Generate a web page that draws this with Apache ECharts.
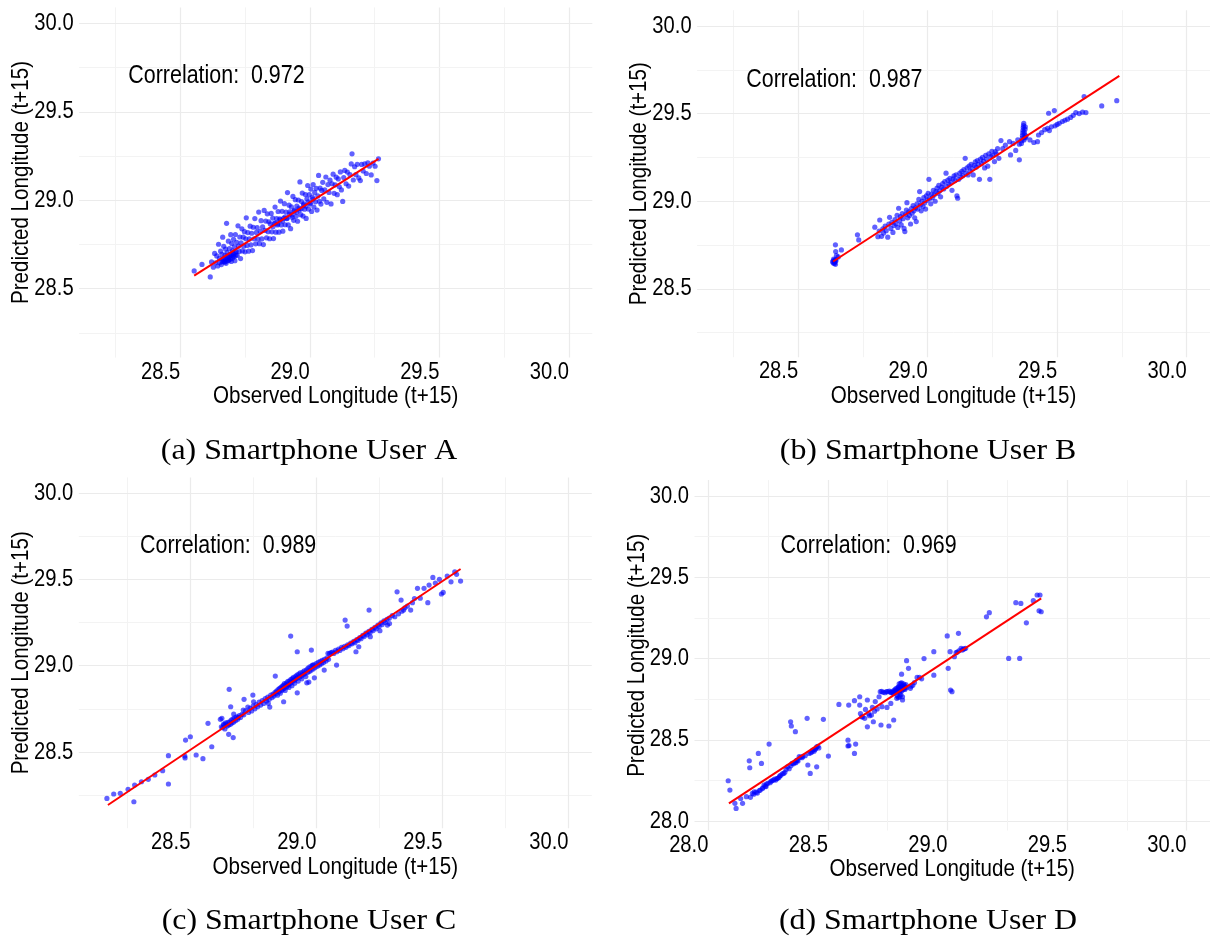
<!DOCTYPE html>
<html><head><meta charset="utf-8">
<script src="https://cdn.jsdelivr.net/npm/echarts@6/dist/echarts.min.js"></script>
<style>html,body{margin:0;padding:0;background:#fff;} #c{width:1210px;height:937px;}</style>
</head><body><div id="c"></div>
<script>
// ---------------- data ----------------
const xTitle = "Observed Longitude (t+15)";
const yTitle = "Predicted Longitude (t+15)";
const captions = ["(a) Smartphone User A", "(b) Smartphone User B", "(c) Smartphone User C", "(d) Smartphone User D"];
const corrTexts = ["Correlation:  0.972", "Correlation:  0.987", "Correlation:  0.989", "Correlation:  0.969"];
const corrPosA = [28.64, 29.70];
const corrPosB = [28.64, 29.69];
const corrPosC = [28.65, 29.695];
const corrPosD = [28.67, 29.69];
const rangeAB = [28.11, 30.09];
const rangeC = [28.0575, 30.0925];
const rangeD = [27.942, 30.098];
const ticksABC = [28.5, 29.0, 29.5, 30.0];
const ticksD = [28.0, 28.5, 29.0, 29.5, 30.0];
const gridValsABC = [28.25, 28.5, 28.75, 29.0, 29.25, 29.5, 29.75, 30.0];
const gridValsD = [28.0, 28.25, 28.5, 28.75, 29.0, 29.25, 29.5, 29.75, 30.0];

const fitA = [[28.554, 28.573], [29.265, 29.234]];
const fitB = [[28.635, 28.656], [29.740, 29.715]];
const fitC = [[28.173, 28.192], [29.572, 29.561]];
const fitD = [[28.086, 28.109], [29.392, 29.370]];

const pointsA = [
[28.554,28.600],[28.584,28.637],[28.616,28.566],
[28.621,28.651],[28.628,28.621],[28.633,28.699],[28.637,28.646],[28.641,28.685],[28.645,28.628],[28.648,28.751],[28.651,28.671],[28.653,28.647],[28.656,28.712],
[28.659,28.636],[28.661,28.694],[28.664,28.791],[28.666,28.668],[28.668,28.739],[28.670,28.654],[28.673,28.689],[28.675,28.724],[28.677,28.643],[28.679,28.869],[28.681,28.703],[28.684,28.678],[28.686,28.768],[28.688,28.660],[28.690,28.726],[28.693,28.694],[28.695,28.805],[28.697,28.654],[28.699,28.755],
[28.702,28.714],[28.704,28.684],[28.706,28.779],[28.709,28.736],[28.711,28.658],[28.713,28.806],[28.716,28.710],[28.718,28.762],[28.720,28.688],[28.723,28.855],[28.725,28.740],[28.728,28.710],[28.730,28.792],[28.733,28.670],[28.735,28.759],[28.738,28.838],[28.740,28.713],[28.743,28.791],[28.745,28.740],[28.748,28.822],[28.750,28.708],[28.753,28.782],[28.755,28.900],[28.758,28.744],
[28.761,28.817],[28.764,28.712],[28.767,28.781],[28.770,28.853],[28.773,28.747],[28.776,28.813],[28.779,28.715],[28.782,28.847],[28.785,28.782],[28.788,28.896],[28.791,28.753],[28.794,28.818],[28.797,28.845],[28.800,28.780],[28.803,28.933],[28.806,28.754],[28.809,28.824],[28.812,28.884],[28.815,28.781],[28.818,28.849],[28.821,28.749],[28.824,28.942],[28.827,28.829],[28.830,28.882],[28.833,28.787],[28.836,28.923],[28.839,28.822],[28.842,28.878],[28.845,28.782],[28.848,28.866],
[28.851,28.925],[28.854,28.821],[28.857,28.899],[28.860,28.783],[28.863,28.869],[28.866,28.961],[28.869,28.819],[28.872,28.896],[28.875,28.860],[28.878,28.936],[28.881,28.819],[28.884,28.895],[28.887,28.995],[28.890,28.860],[28.893,28.937],[28.896,28.825],[28.899,28.898],[28.902,28.980],[28.905,28.861],[28.908,28.933],[28.911,28.896],[28.914,29.043],[28.917,28.860],[28.920,28.972],[28.923,28.934],[28.926,28.839],[28.929,28.962],[28.932,28.903],[28.935,29.021],[28.938,28.886],[28.941,28.944],[28.944,29.003],[28.947,28.909],
[28.950,28.967],[28.953,28.881],[28.956,29.001],[28.959,28.944],[28.962,29.103],[28.965,28.918],[28.968,28.992],[28.971,29.040],[28.974,28.910],[28.977,28.979],[28.980,28.949],[28.983,29.032],[28.986,28.897],[28.989,29.007],[28.992,29.083],[28.995,28.950],[28.998,29.031],[29.001,28.978],[29.004,29.063],[29.007,28.936],[29.010,29.017],[29.013,29.088],[29.016,28.961],[29.019,29.044],[29.022,28.991],[29.025,29.067],[29.028,28.944],[29.031,29.024],[29.034,29.140],[29.037,28.994],[29.040,29.068],[29.043,28.978],[29.046,29.055],
[29.050,29.101],[29.054,29.007],[29.058,29.058],[29.062,29.131],[29.066,28.988],[29.070,29.088],[29.074,29.044],[29.078,29.113],[29.082,28.979],[29.086,29.093],[29.090,29.147],[29.094,29.039],[29.098,29.087],[29.102,29.130],[29.106,29.031],[29.110,29.120],[29.114,29.076],[29.118,29.160],[29.122,29.058],[29.127,28.993],[29.131,29.128],[29.135,29.168],[29.140,29.093],[29.145,29.159],[29.150,29.080],[29.155,29.144],[29.160,29.205],[29.163,29.262],[29.168,29.114],[29.173,29.189],[29.178,29.144],[29.183,29.203],[29.189,29.126],[29.195,29.111],[29.200,29.202],[29.206,29.165],[29.212,29.205],[29.218,29.151],[29.224,29.211],[29.230,29.192],[29.237,29.143],[29.244,29.210],[29.252,29.192],[29.259,29.111],[29.265,29.234],
[28.662,28.652],[28.667,28.661],[28.672,28.649],[28.676,28.668],[28.680,28.656],[28.683,28.672],[28.687,28.662],[28.691,28.681],[28.694,28.667],[28.698,28.690],[28.701,28.672],[28.705,28.697],[28.708,28.680],[28.712,28.703],[28.715,28.689],
[28.858,28.850],[28.868,28.872],[28.877,28.866],[28.886,28.889],[28.895,28.882],[28.904,28.905],[28.913,28.898],[28.922,28.921],[28.931,28.915],[28.940,28.938],[28.949,28.932],[28.958,28.955],[28.967,28.951],[28.976,28.972],[28.985,28.966],[28.994,28.990],[29.003,28.984],[29.012,29.006]
];

const pointsB = [
[28.633,28.655],[28.636,28.648],[28.638,28.662],[28.640,28.645],[28.642,28.658],[28.644,28.640],[28.645,28.668],[28.637,28.670],[28.641,28.652],[28.646,28.660],[28.644,28.751],[28.645,28.713],[28.648,28.690],[28.667,28.722],[28.655,28.682],
[28.729,28.808],[28.734,28.779],[28.796,28.852],[28.808,28.798],[28.815,28.893],[28.813,28.830],[28.822,28.800],[28.827,28.843],[28.830,28.818],[28.836,28.858],[28.840,28.832],[28.846,28.795],[28.850,28.870],[28.853,28.908],[28.858,28.845],[28.862,28.880],[28.866,28.822],[28.870,28.862],[28.874,28.895],[28.878,28.872],[28.882,28.920],[28.885,28.850],[28.888,28.960],[28.892,28.888],[28.895,28.912],[28.898,28.865],[28.902,28.930],[28.905,28.900],[28.909,28.845],[28.912,28.827],[28.915,28.925],[28.918,28.950],[28.920,28.992],[28.923,28.905],[28.927,28.940],[28.930,28.918],[28.934,28.870],[28.937,28.958],[28.940,28.932],[28.944,28.975],[28.947,28.945],[28.950,28.905],[28.953,28.962],[28.956,28.884],[28.959,28.985],[28.962,28.955],[28.966,29.010],[28.969,29.055],[28.972,28.978],[28.975,28.945],[28.978,29.000],[28.982,28.970],[28.985,29.020],[28.988,28.990],[28.992,28.955],[28.995,29.030],[28.998,29.005],[29.002,29.045],[29.005,29.125],[29.008,29.015],[29.012,28.985],[29.015,29.040],[29.018,29.020],[29.022,29.062],[29.025,29.035],[29.029,29.000],[29.032,29.055],[29.036,29.075],[29.040,29.045],[29.043,29.090],[29.047,29.060],[29.050,29.025],[29.054,29.080],[29.058,29.100],[29.062,29.070],[29.066,29.112],[29.071,29.160],[29.074,29.085],[29.078,29.120],[29.082,29.098],[29.086,29.130],[29.090,29.105],[29.094,29.062],[29.098,29.128],[29.102,29.145],[29.106,29.118],[29.110,29.150],[29.113,29.030],[29.116,29.017],[29.120,29.125],[29.124,29.160],[29.128,29.138],[29.132,29.170],[29.136,29.145],[29.140,29.180],[29.145,29.245],[29.148,29.160],[29.152,29.190],[29.156,29.150],[29.160,29.200],[29.164,29.172],[29.168,29.210],[29.172,29.185],[29.176,29.150],[29.180,29.205],[29.184,29.225],[29.188,29.195],[29.192,29.232],[29.196,29.210],[29.200,29.125],[29.204,29.240],[29.208,29.215],[29.212,29.250],[29.216,29.228],[29.220,29.190],[29.224,29.262],[29.228,29.240],[29.232,29.200],[29.236,29.270],[29.240,29.125],[29.244,29.255],[29.248,29.285],[29.252,29.260],[29.258,29.226],[29.261,29.283],[29.265,29.270],[29.270,29.300],[29.275,29.245],[29.283,29.346],[29.290,29.300],[29.300,29.320],[29.316,29.340],[29.320,29.264],[29.330,29.330],[29.340,29.290],[29.354,29.236],[29.354,29.325],[29.348,29.350],
[29.362,29.330],[29.364,29.345],[29.365,29.360],[29.366,29.375],[29.367,29.390],[29.368,29.405],[29.369,29.420],[29.370,29.432],[29.371,29.445],[29.372,29.350],[29.374,29.365],[29.375,29.380],[29.373,29.395],[29.376,29.410],[29.378,29.362],[29.380,29.372],[29.377,29.425],
[29.395,29.350],[29.410,29.335],[29.424,29.340],[29.428,29.378],[29.440,29.392],[29.452,29.408],[29.463,29.416],[29.467,29.502],[29.470,29.403],[29.478,29.425],[29.489,29.517],[29.492,29.430],[29.500,29.438],[29.508,29.445],[29.520,29.455],[29.530,29.462],[29.540,29.468],[29.552,29.478],[29.562,29.490],[29.572,29.506],[29.585,29.500],[29.598,29.508],[29.604,29.597],[29.611,29.506],[29.672,29.544],[29.730,29.574]
];

const pointsC = [
[28.169,28.230],[28.196,28.256],[28.222,28.260],[28.253,28.283],[28.276,28.211],[28.279,28.308],[28.306,28.327],[28.333,28.341],[28.359,28.366],[28.390,28.391],[28.413,28.314],[28.413,28.478],[28.478,28.476],[28.479,28.465],[28.481,28.569],[28.500,28.588],[28.523,28.482],[28.550,28.461],[28.585,28.530],[28.570,28.666],[28.619,28.689],[28.623,28.646],[28.625,28.695],[28.632,28.662],[28.654,28.863],[28.660,28.762],[28.652,28.602],[28.640,28.668],[28.670,28.583],[28.672,28.720],[28.710,28.743],[28.713,28.805],[28.748,28.830],[28.751,28.791],[28.690,28.700],[28.712,28.715],[28.728,28.760],[28.809,28.782],[28.815,28.760],[28.837,28.940],[28.870,28.791],[28.898,29.172],[28.924,29.081],[28.924,28.843],[28.962,28.901],[28.970,28.905],[28.980,29.091],[28.985,29.004],[28.992,28.930],[29.031,28.975],[29.046,29.072],[29.080,29.004],[29.114,29.265],[29.122,29.230],[29.157,29.081],[29.168,29.110],[29.209,29.323],[29.214,29.168],[29.252,29.203],[29.282,29.236],[29.290,29.245],[29.320,29.429],[29.336,29.381],[29.346,29.323],[29.374,29.323],[29.389,29.390],[29.401,29.449],[29.412,29.392],[29.427,29.449],[29.442,29.366],[29.447,29.468],[29.462,29.512],[29.472,29.480],[29.496,29.416],[29.503,29.425],[29.488,29.501],[29.519,29.520],[29.534,29.487],[29.549,29.545],[29.556,29.530],[29.572,29.491],
[28.628,28.641],[28.633,28.655],[28.637,28.633],[28.641,28.662],[28.646,28.650],[28.649,28.671],[28.652,28.656],[28.656,28.675],[28.659,28.660],[28.662,28.684],[28.665,28.668],[28.669,28.692],[28.672,28.673],[28.676,28.697],[28.680,28.682],[28.684,28.703],[28.688,28.690],[28.694,28.711],[28.699,28.700],[28.705,28.718],[28.719,28.738],[28.731,28.729],[28.737,28.753],[28.743,28.738],[28.749,28.766],[28.756,28.750],[28.761,28.774],[28.767,28.762],[28.773,28.789],[28.779,28.772],[28.785,28.798],[28.791,28.781],[28.797,28.809],[28.802,28.796],[28.807,28.818],[28.813,28.806],[28.819,28.829],[28.824,28.815],
[28.828,28.836],[28.831,28.824],[28.836,28.846],[28.839,28.837],[28.842,28.853],[28.846,28.829],[28.848,28.861],[28.852,28.849],[28.854,28.869],[28.857,28.841],[28.859,28.873],[28.862,28.857],[28.864,28.881],[28.867,28.864],[28.869,28.886],[28.872,28.869],[28.873,28.896],[28.876,28.857],[28.878,28.891],[28.881,28.877],[28.882,28.901],[28.885,28.883],[28.887,28.909],[28.890,28.891],[28.891,28.874],[28.894,28.913],[28.896,28.897],[28.899,28.921],[28.900,28.904],[28.903,28.884],[28.905,28.926],[28.908,28.911],[28.909,28.933],[28.913,28.917],[28.914,28.899],[28.918,28.939],[28.919,28.924],[28.923,28.946],[28.924,28.929],[28.928,28.911],[28.930,28.951],[28.934,28.935],[28.936,28.959],[28.940,28.941],[28.942,28.924],[28.946,28.963],[28.948,28.949],[28.952,28.971],[28.954,28.954],[28.958,28.937],[28.961,28.976],[28.965,28.961],[28.967,28.986],[28.972,28.967],[28.974,28.993],[28.979,28.974],[28.982,28.999],[28.987,28.981],[28.990,29.005],[28.995,28.989],[28.999,29.013],[29.004,28.997],[29.007,29.019],[29.012,29.004],[29.015,29.026],[29.020,29.011],[29.023,29.031],[29.028,29.019],[29.032,29.037],[29.038,29.027],[29.042,29.046],[29.048,29.037],[29.052,29.071],[29.058,29.076],
[29.064,29.079],[29.069,29.071],[29.076,29.089],[29.081,29.081],[29.088,29.096],[29.093,29.089],[29.100,29.106],[29.105,29.099],[29.112,29.113],[29.117,29.107],[29.124,29.121],[29.129,29.117],[29.136,29.131],[29.141,29.127],[29.148,29.141],[29.153,29.134],[29.160,29.151],[29.165,29.147],[29.172,29.163],[29.177,29.157],[29.184,29.176],[29.189,29.169],[29.196,29.189],[29.201,29.179],[29.208,29.199],[29.213,29.191],[29.220,29.211],[29.225,29.204],[29.232,29.223],[29.237,29.214],[29.244,29.236],[29.249,29.227],[29.256,29.249],[29.261,29.239],[29.268,29.261],[29.273,29.251],[29.280,29.269],[29.289,29.276],[29.301,29.291],[29.311,29.284],[29.326,29.301],[29.339,29.316],[29.351,29.336],[29.361,29.346],[29.381,29.366]
];

const pointsD = [
[28.083,28.248],[28.090,28.191],[28.111,28.109],[28.116,28.078],[28.135,28.139],[28.143,28.109],[28.159,28.150],[28.171,28.371],[28.173,28.328],[28.176,28.146],[28.184,28.170],[28.190,28.165],[28.192,28.180],[28.200,28.178],[28.205,28.172],[28.209,28.416],[28.213,28.188],[28.217,28.191],[28.222,28.355],[28.226,28.200],[28.228,28.205],[28.233,28.222],[28.238,28.215],[28.241,28.212],[28.243,28.228],[28.249,28.232],[28.254,28.474],[28.258,28.236],[28.262,28.245],[28.266,28.248],[28.272,28.252],[28.277,28.258],[28.282,28.252],[28.286,28.262],[28.290,28.263],[28.295,28.268],[28.298,28.277],[28.302,28.281],[28.309,28.290],[28.315,28.293],[28.320,28.300],[28.325,28.318],[28.331,28.334],[28.338,28.322],[28.344,28.611],[28.345,28.340],[28.347,28.585],[28.350,28.355],[28.356,28.352],[28.362,28.360],[28.364,28.550],[28.366,28.359],[28.368,28.372],[28.372,28.375],[28.375,28.370],[28.380,28.396],[28.386,28.392],[28.392,28.390],[28.395,28.398],[28.405,28.402],[28.413,28.632],[28.416,28.345],[28.421,28.416],[28.426,28.293],[28.428,28.420],[28.433,28.425],[28.437,28.437],[28.442,28.430],[28.446,28.440],[28.448,28.445],[28.453,28.457],[28.453,28.334],[28.458,28.460],[28.462,28.450],[28.481,28.626],[28.502,28.400],[28.546,28.718],[28.584,28.498],[28.584,28.462],[28.588,28.465],[28.587,28.714],[28.611,28.741],[28.616,28.474],[28.611,28.416],[28.633,28.714],[28.633,28.765],[28.636,28.662],[28.641,28.642],[28.645,28.640],[28.654,28.632],[28.657,28.687],[28.665,28.745],[28.665,28.580],[28.670,28.660],[28.674,28.648],[28.682,28.652],[28.686,28.700],[28.690,28.611],[28.695,28.676],[28.698,28.735],[28.706,28.690],[28.714,28.765],[28.719,28.796],[28.722,28.591],[28.726,28.704],[28.725,28.798],[28.731,28.792],[28.739,28.790],[28.744,28.797],[28.747,28.699],[28.750,28.796],[28.755,28.585],[28.757,28.799],[28.762,28.793],[28.763,28.724],[28.766,28.790],[28.770,28.790],[28.772,28.800],[28.775,28.785],[28.775,28.622],[28.778,28.805],[28.780,28.795],[28.782,28.812],[28.784,28.790],[28.786,28.802],[28.788,28.818],[28.788,28.755],[28.790,28.798],[28.790,28.770],[28.792,28.808],[28.794,28.822],[28.795,28.760],[28.796,28.800],[28.796,28.827],[28.798,28.815],[28.798,28.845],[28.800,28.790],[28.800,28.765],[28.802,28.805],[28.804,28.825],[28.804,28.847],[28.805,28.778],[28.806,28.812],[28.808,28.800],[28.808,28.850],[28.808,28.904],[28.810,28.818],[28.812,28.830],[28.812,28.765],[28.812,28.745],[28.814,28.808],[28.816,28.822],[28.816,28.845],[28.818,28.815],[28.820,28.835],[28.822,28.810],[28.824,28.825],[28.826,28.840],[28.828,28.820],[28.829,28.987],[28.837,28.940],[28.845,28.817],[28.848,28.830],[28.855,28.835],[28.862,28.852],[28.873,28.884],[28.883,28.884],[28.892,28.875],[28.902,29.000],[28.943,28.898],[28.943,29.042],[28.999,29.139],[29.003,28.940],[29.011,29.042],[29.013,28.806],[29.019,28.796],[29.029,29.011],[29.036,29.036],[29.041,29.040],[29.046,29.155],[29.048,29.048],[29.057,29.063],[29.062,29.052],[29.066,29.058],[29.071,29.060],[29.076,29.063],[29.163,29.257],[29.175,29.282],[29.256,29.001],[29.286,29.344],[29.302,29.001],[29.307,29.339],[29.330,29.220],[29.359,29.356],[29.375,29.391],[29.387,29.391],[29.383,29.294],[29.392,29.288]
];

// ---------------- chart ----------------
const SANS = "'Liberation Sans',Arial,Helvetica,sans-serif";
const SERIF = "'Liberation Serif','Times New Roman',serif";
const NARROW = 0.84; // glyph width factor of the original's condensed sans text
const panels = [
  {pts: pointsA, fit: fitA, corrPos: corrPosA, range: rangeAB, ticks: ticksABC, gv: gridValsABC, box: {left: 79.1, top: 7.4, width: 513.2, height: 350.2}, cap: [309, 451]},
  {pts: pointsB, fit: fitB, corrPos: corrPosB, range: rangeAB, ticks: ticksABC, gv: gridValsABC, box: {left: 697.1, top: 10.2, width: 514, height: 347}, cap: [928, 451]},
  {pts: pointsC, fit: fitC, corrPos: corrPosC, range: rangeC, ticks: ticksABC, gv: gridValsABC, box: {left: 78.8, top: 477.4, width: 513, height: 350.8}, cap: [309, 921]},
  {pts: pointsD, fit: fitD, corrPos: corrPosD, range: rangeD, ticks: ticksD, gv: gridValsD, box: {left: 694.5, top: 480.1, width: 516.7, height: 350.4}, cap: [928, 921]}
];
const MAJOR = '#EBEBEB', MINOR = '#F3F3F3';
const isMajor = v => Math.abs(v * 2 - Math.round(v * 2)) < 1e-9;
const option = {animation: false, backgroundColor: '#ffffff', grid: [], xAxis: [], yAxis: [], series: []};
panels.forEach((p, i) => {
  option.grid.push(Object.assign({containLabel: false}, p.box));
  const ax = {
    type: 'value', gridIndex: i, min: p.range[0], max: p.range[1],
    axisLine: {show: false}, axisTick: {show: false}, splitLine: {show: false}, axisLabel: {show: false}
  };
  option.xAxis.push(Object.assign({}, ax));
  option.yAxis.push(Object.assign({}, ax));
  const gl = [];
  p.gv.forEach(v => {
    const ls = {color: isMajor(v) ? MAJOR : MINOR, width: isMajor(v) ? 1.2 : 1, type: 'solid'};
    gl.push({xAxis: v, lineStyle: ls});
    gl.push({yAxis: v, lineStyle: ls});
  });
  option.series.push({
    type: 'scatter', xAxisIndex: i, yAxisIndex: i, data: [], z: 1, silent: true,
    markLine: {z: 1, silent: true, symbol: ['none', 'none'], animation: false, label: {show: false}, emphasis: {disabled: true}, data: gl}
  });
  option.series.push({
    type: 'scatter', xAxisIndex: i, yAxisIndex: i, data: p.pts, z: 3, silent: true,
    symbol: 'circle', symbolSize: 5.2, itemStyle: {color: '#0000FF', opacity: 0.62, borderWidth: 0}
  });
  option.series.push({
    type: 'line', xAxisIndex: i, yAxisIndex: i, data: p.fit, z: 4, silent: true,
    showSymbol: false, symbol: 'none', lineStyle: {color: '#FF0000', width: 2}
  });
});
const chart = echarts.init(document.getElementById('c'), null, {renderer: 'canvas', width: 1210, height: 937});
chart.setOption(option);

// texts placed through the library's coordinate conversion
function txt(text, x, y, align, size, extra) {
  return Object.assign({
    type: 'text', x: x, y: y, silent: true, scaleX: NARROW, z: 10,
    style: {text: text, fontSize: size, fontFamily: SANS, fill: '#000', align: align, verticalAlign: 'middle'}
  }, extra || {});
}
const g = [];
panels.forEach((p, i) => {
  const r0 = p.range[0], r1 = p.range[1];
  const bl = chart.convertToPixel({gridIndex: i}, [r0, r0]);
  const tr = chart.convertToPixel({gridIndex: i}, [r1, r1]);
  const left = bl[0], bottom = bl[1], right = tr[0], top = tr[1];
  p.ticks.forEach(v => {
    const lab = v.toFixed(1);
    const px = chart.convertToPixel({gridIndex: i}, [v, r0]);
    g.push(txt(lab, px[0], bottom + 14.5, 'right', 24));
    const py = chart.convertToPixel({gridIndex: i}, [r0, v]);
    g.push(txt(lab, left - 5.5, py[1], 'right', 24));
  });
  g.push(txt(xTitle, (left + right) / 2, bottom + 39, 'center', 24.5));
  g.push(txt(yTitle, left - 57.7, (top + bottom) / 2, 'center', 24.5, {rotation: Math.PI / 2}));
  const c = chart.convertToPixel({gridIndex: i}, p.corrPos);
  g.push(txt(corrTexts[i], c[0], c[1], 'center', 25.5));
  g.push({
    type: 'text', x: p.cap[0], y: p.cap[1], silent: true, scaleX: 1.08,
    style: {text: captions[i], fontSize: 29.5, fontFamily: SERIF, fill: '#000', align: 'center', verticalAlign: 'middle'}
  });
});
chart.setOption({graphic: g});
</script>
</body></html>
